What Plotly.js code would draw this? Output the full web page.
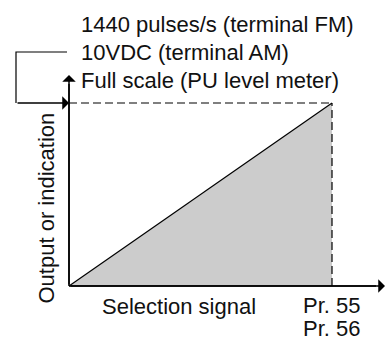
<!DOCTYPE html>
<html>
<head>
<meta charset="utf-8">
<script src="https://cdn.plot.ly/plotly-3.0.1.min.js"></script>
<style>html,body{margin:0;padding:0;background:#fff;}#chart{width:387px;height:342px;}</style>
</head>
<body>
<div id="chart"></div>
<script>
// Data
const signal = [0, 1];          // selection signal (0 .. Pr.55/56 setting)
const output = [0, 1];          // output / indication (0 .. full scale)
const fullScaleLabels = ['1440 pulses/s (terminal FM)', '10VDC (terminal AM)', 'Full scale (PU level meter)'];
const xLabel = 'Selection signal';
const yLabel = 'Output or indication';
const paramLabels = ['Pr. 55', 'Pr. 56'];

// Layout geometry (pixel helpers for a full-figure plot area)
const W = 387, H = 342;
const x0px = 69, x1px = 332, y0px = 286, y1px = 103;
const kx = x1px - x0px, ky = y0px - y1px;
const X = px => (px - x0px) / kx;
const Y = py => (y0px - py) / ky;
const PX = px => px / W;
const PY = py => 1 - py / H;

const font = {family: 'Liberation Sans, Arial, Helvetica, sans-serif', size: 22, color: '#111'};

const xMax = signal[signal.length - 1];
const yMax = output[output.length - 1];

const traces = [
  {x: signal, y: output, mode: 'lines', fill: 'tozeroy', fillcolor: '#cccccc',
   line: {color: '#000', width: 1.2}, hoverinfo: 'skip', showlegend: false},
  {x: [signal[0], xMax], y: [yMax, yMax], mode: 'lines',
   line: {color: '#000', width: 1.2, dash: '8px,4px'}, hoverinfo: 'skip', showlegend: false},
  {x: [xMax, xMax], y: [output[0], yMax], mode: 'lines',
   line: {color: '#000', width: 1.2, dash: '8px,4px'}, hoverinfo: 'skip', showlegend: false}
];

const arrow = (x, y, ax, ay) => ({
  x: x, y: y, ax: ax, ay: ay, xref: 'x', yref: 'y', axref: 'x', ayref: 'y',
  text: '', showarrow: true, arrowhead: 1, arrowsize: 1.5, arrowwidth: 1.5,
  arrowcolor: '#000', standoff: 0, startstandoff: 0
});

const txt = (text, px, py, extra) => Object.assign({
  xref: 'paper', yref: 'paper', x: PX(px), y: PY(py), xanchor: 'left', yanchor: 'middle',
  text: text, showarrow: false, font: font, borderpad: 0
}, extra || {});

const annotations = [
  arrow(X(385), 0, 0, 0),
  arrow(0, Y(75), 0, 0),
  arrow(0, yMax, X(16), yMax),
  txt(fullScaleLabels[0], 79.5, 24),
  txt(fullScaleLabels[1], 79.5, 52),
  txt(fullScaleLabels[2], 80, 80.5),
  txt(xLabel, 100.5, 306),
  txt(paramLabels[0], 302, 305.5),
  txt(paramLabels[1], 302, 342, {yanchor: 'bottom'}),
  txt(yLabel, 46, 208.5, {xanchor: 'center', textangle: -90})
];

const shapes = [
  {type: 'path', xref: 'x', yref: 'y',
   path: `M ${X(67)},${Y(52)} L ${X(16)},${Y(52)} L ${X(16)},${yMax}`,
   line: {color: '#000', width: 1.2}},
  {type: 'line', xref: 'x', yref: 'y', x0: 0, y0: 0, x1: X(376), y1: 0, line: {color: '#000', width: 1.5}},
  {type: 'line', xref: 'x', yref: 'y', x0: 0, y0: 0, x1: 0, y1: Y(84), line: {color: '#000', width: 1.5}}
];

const layout = {
  width: W, height: H,
  margin: {l: 0, r: 0, t: 0, b: 0, pad: 0},
  paper_bgcolor: '#fff', plot_bgcolor: '#fff',
  xaxis: {range: [X(0), X(W)], visible: false, fixedrange: true},
  yaxis: {range: [Y(H), Y(0)], visible: false, fixedrange: true},
  showlegend: false,
  annotations: annotations,
  shapes: shapes
};

Plotly.newPlot('chart', traces, layout, {staticPlot: true, displayModeBar: false});
</script>
</body>
</html>
